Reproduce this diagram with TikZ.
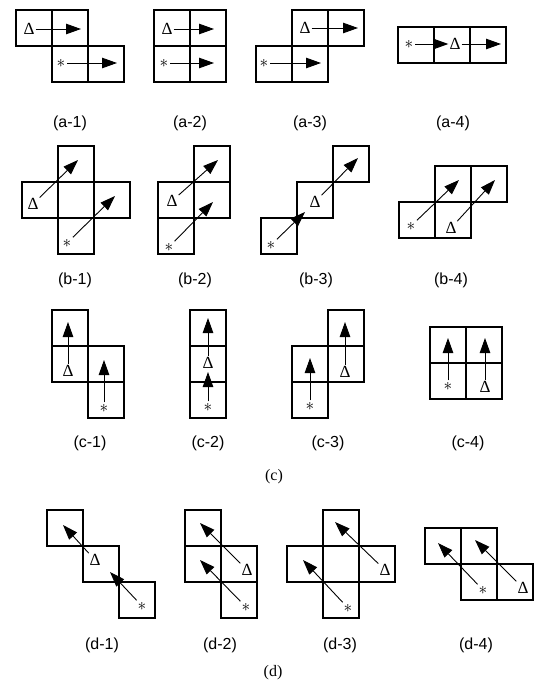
\documentclass[tikz,border=0pt]{standalone}
\usepackage{fontspec}
\setmainfont{Liberation Sans}
\newfontfamily\serifdelta{Liberation Serif}
\usepackage{tikz}
\usetikzlibrary{arrows.meta, positioning, calc}

\tikzset{
  cellbox/.style={draw, line width=1.5pt},
  mv/.style={-{Triangle[length=15pt,width=10.5pt]}, line width=0.9pt},
  deltanode/.style={inner sep=1pt, font=\serifdelta\fontsize{17}{17}\selectfont},
  astnode/.style={inner sep=1.5pt, font=\fontsize{16}{16}\selectfont},
  lab/.style={font=\fontsize{16}{16}\selectfont},
  grouplab/.style={font=\serifdelta\fontsize{16}{16}\selectfont},
}
\newcommand{\sq}[2]{\draw[cellbox] (#1,#2) rectangle ++(36,36);}

\begin{document}
\begin{tikzpicture}[x=1pt, y=-1pt]
			\useasboundingbox (0,0) rectangle (536,685);
			% ---- row a
			\sq{16}{10} \sq{52}{10} \sq{52}{46} \sq{88}{46}
			\sq{154}{10} \sq{190}{10} \sq{154}{46} \sq{190}{46}
			\sq{292}{10} \sq{328}{10} \sq{256}{46} \sq{292}{46}
			\sq{398}{27} \sq{434}{27} \sq{470}{27}
			\node[deltanode] (a1d) at (29,29) {Δ};
			\node[astnode] (a1s) at (61,63) {$\ast$};
			\coordinate (a1dt) at (81,29);
			\coordinate (a1st) at (117,63);
			\draw[mv] (a1d) -- (a1dt);
			\draw[mv] (a1s) -- (a1st);
			\node[deltanode] (a2d) at (167,29) {Δ};
			\node[astnode] (a2s) at (164,63) {$\ast$};
			\coordinate (a2dt) at (214,29);
			\coordinate (a2st) at (214,63);
			\draw[mv] (a2d) -- (a2dt);
			\draw[mv] (a2s) -- (a2st);
			\node[deltanode] (a3d) at (305,28) {Δ};
			\node[astnode] (a3s) at (264,63) {$\ast$};
			\coordinate (a3dt) at (358,28);
			\coordinate (a3st) at (321,63);
			\draw[mv] (a3d) -- (a3dt);
			\draw[mv] (a3s) -- (a3st);
			\node[astnode] (a4s) at (409,44) {$\ast$};
			\node[deltanode] (a4d) at (455,44) {Δ};
			\coordinate (a4dt) at (501,44);
			\draw[mv] (a4s) -- (a4d);
			\draw[mv] (a4d) -- (a4dt);
			\node[lab] (a1l) at (70,123) {(a-1)};
			\node[lab] (a2l) at (190,123) {(a-2)};
			\node[lab] (a3l) at (310,123) {(a-3)};
			\node[lab] (a4l) at (453,123) {(a-4)};
			% ---- row b
			\sq{58}{146} \sq{22}{182} \sq{58}{182} \sq{94}{182} \sq{58}{218}
			\sq{194}{146} \sq{158}{182} \sq{194}{182} \sq{158}{218}
			\sq{333}{146} \sq{297}{182} \sq{261}{218}
			\sq{435}{166} \sq{471}{166} \sq{399}{202} \sq{435}{202}
			\node[deltanode] (b1d) at (33,204) {Δ};
			\node[astnode] (b1s) at (67,243) {$\ast$};
			\coordinate (b1dt) at (78,160);
			\coordinate (b1st) at (115,196);
			\draw[mv] (b1d) -- (b1dt);
			\draw[mv] (b1s) -- (b1st);
			\node[deltanode] (b2d) at (172,201) {Δ};
			\node[astnode] (b2s) at (169,247) {$\ast$};
			\coordinate (b2dt) at (218,160);
			\coordinate (b2st) at (213,202);
			\draw[mv] (b2d) -- (b2dt);
			\draw[mv] (b2s) -- (b2st);
			\node[deltanode] (b3d) at (315,202) {Δ};
			\node[astnode] (b3s) at (271,245) {$\ast$};
			\coordinate (b3dt) at (358,158);
			\coordinate (b3st) at (305,212);
			\draw[mv] (b3d) -- (b3dt);
			\draw[mv] (b3s) -- (b3st);
			\node[astnode] (b4s) at (411,226) {$\ast$};
			\node[deltanode] (b4d) at (451,228) {Δ};
			\coordinate (b4st) at (459,180);
			\coordinate (b4dt) at (495,180);
			\draw[mv] (b4s) -- (b4st);
			\draw[mv] (b4d) -- (b4dt);
			\node[lab] (b1l) at (75,280) {(b-1)};
			\node[lab] (b2l) at (195,280) {(b-2)};
			\node[lab] (b3l) at (316,280) {(b-3)};
			\node[lab] (b4l) at (451,280) {(b-4)};
			% ---- row c
			\sq{52}{310} \sq{52}{346} \sq{88}{346} \sq{88}{382}
			\sq{190}{310} \sq{190}{346} \sq{190}{382}
			\sq{328}{310} \sq{328}{346} \sq{292}{346} \sq{292}{382}
			\sq{430}{327} \sq{466}{327} \sq{430}{363} \sq{466}{363}
			\node[deltanode] (c1d) at (68,371) {Δ};
			\node[astnode] (c1s) at (104,408) {$\ast$};
			\coordinate (c1dt) at (68,322);
			\coordinate (c1st) at (104,360);
			\draw[mv] (c1d) -- (c1dt);
			\draw[mv] (c1s) -- (c1st);
			\node[astnode] (c2s) at (208,407) {$\ast$};
			\node[deltanode] (c2d) at (208,363) {Δ};
			\coordinate (c2st) at (208,372);
			\coordinate (c2dt) at (208,318);
			\draw[mv] (c2s) -- (c2st);
			\draw[mv] (c2d) -- (c2dt);
			\node[astnode] (c3s) at (310,406) {$\ast$};
			\node[deltanode] (c3d) at (345,372) {Δ};
			\coordinate (c3st) at (310,358);
			\coordinate (c3dt) at (345,322);
			\draw[mv] (c3s) -- (c3st);
			\draw[mv] (c3d) -- (c3dt);
			\node[astnode] (c4s) at (448,386) {$\ast$};
			\node[deltanode] (c4d) at (485,387) {Δ};
			\coordinate (c4st) at (448,338);
			\coordinate (c4dt) at (485,338);
			\draw[mv] (c4s) -- (c4st);
			\draw[mv] (c4d) -- (c4dt);
			\node[lab] (c1l) at (90,443) {(c-1)};
			\node[lab] (c2l) at (208,443) {(c-2)};
			\node[lab] (c3l) at (328,443) {(c-3)};
			\node[lab] (c4l) at (468,443) {(c-4)};
			\node[grouplab] (cl) at (274,477) {(c)};
			% ---- row d
			\sq{47}{510} \sq{83}{546} \sq{119}{582}
			\sq{185}{510} \sq{185}{546} \sq{221}{546} \sq{221}{582}
			\sq{323}{510} \sq{287}{546} \sq{323}{546} \sq{359}{546} \sq{323}{582}
			\sq{425}{528} \sq{461}{528} \sq{461}{564} \sq{497}{564}
			\node[astnode] (d1s) at (142,606) {$\ast$};
			\node[deltanode] (d1d) at (95,560) {Δ};
			\coordinate (d1st) at (110,572);
			\coordinate (d1dt) at (63,525);
			\draw[mv] (d1s) -- (d1st);
			\draw[mv] (d1d) -- (d1dt);
			\node[deltanode] (d2d) at (247,570) {Δ};
			\node[astnode] (d2s) at (246,607) {$\ast$};
			\coordinate (d2dt) at (200,523);
			\coordinate (d2st) at (200,560);
			\draw[mv] (d2d) -- (d2dt);
			\draw[mv] (d2s) -- (d2st);
			\node[deltanode] (d3d) at (385,570) {Δ};
			\node[astnode] (d3s) at (348,608) {$\ast$};
			\coordinate (d3dt) at (335,522);
			\coordinate (d3st) at (303,560);
			\draw[mv] (d3d) -- (d3dt);
			\draw[mv] (d3s) -- (d3st);
			\node[astnode] (d4s) at (483,590) {$\ast$};
			\node[deltanode] (d4d) at (523,588) {Δ};
			\coordinate (d4st) at (438,543);
			\coordinate (d4dt) at (475,540);
			\draw[mv] (d4s) -- (d4st);
			\draw[mv] (d4d) -- (d4dt);
			\node[lab] (d1l) at (102,645) {(d-1)};
			\node[lab] (d2l) at (220,645) {(d-2)};
			\node[lab] (d3l) at (340,645) {(d-3)};
			\node[lab] (d4l) at (476,645) {(d-4)};
			\node[grouplab] (dl) at (273,673) {(d)};
		\end{tikzpicture}
\end{document}
